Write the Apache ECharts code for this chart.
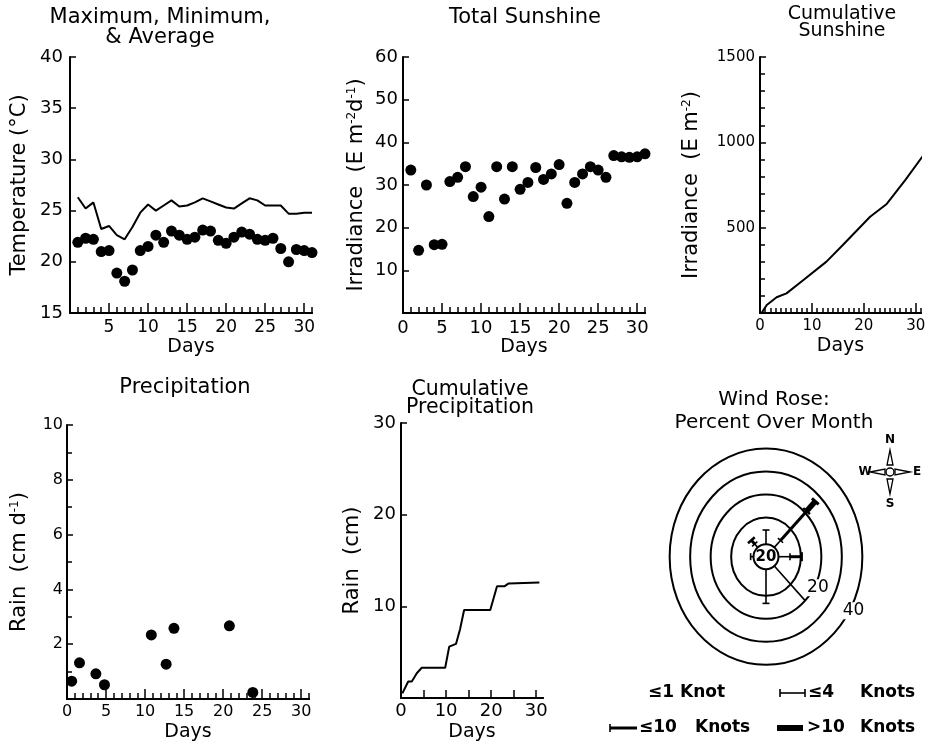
<!DOCTYPE html>
<html>
<head>
<meta charset="utf-8">
<script src="https://cdn.jsdelivr.net/npm/echarts@6/dist/echarts.min.js"></script>
<style>
  html, body { margin: 0; padding: 0; background: #fff; }
  #main { width: 929px; height: 746px; }
</style>
</head>
<body>
<div id="main"></div>
<script>
// values
let days = [1, 2, 3, 4, 5, 6, 7, 8, 9, 10, 11, 12, 13, 14, 15, 16, 17, 18, 19, 20, 21, 22, 23, 24, 25, 26, 27, 28, 29, 30, 31];
let tempLine = [26.3, 25.2, 25.8, 23.2, 23.5, 22.6, 22.2, 23.4, 24.8, 25.6, 25.0, 25.5, 26.0, 25.4, 25.5, 25.8,
    26.2, 25.9, 25.6, 25.3, 25.2, 25.7, 26.2, 26.0, 25.5, 25.5, 25.5, 24.7, 24.7, 24.8, 24.8];
let tempDots = [21.9, 22.3, 22.2, 21.0, 21.1, 18.9, 18.1, 19.2, 21.1, 21.5, 22.6, 21.9, 23.0, 22.6, 22.2, 22.4,
    23.1, 23.0, 22.1, 21.8, 22.4, 22.9, 22.7, 22.2, 22.1, 22.3, 21.3, 20.0, 21.2, 21.1, 20.9];
let sunDaily = [33.5, 14.7, 30.0, 16.0, 16.1, 30.8, 31.8, 34.3, 27.3, 29.5, 22.6, 34.3, 26.7, 34.3, 29.0, 30.6,
    34.1, 31.3, 32.6, 34.8, 25.7, 30.6, 32.6, 34.3, 33.5, 31.8, 36.9, 36.6, 36.5, 36.6, 37.3];
let cumSunDays = [0.3, 1.3, 3.2, 5.1, 8, 12.8, 16, 21.2, 24.4, 28, 32.1];
let cumSun = [0, 47, 92, 115, 185, 301, 400, 564, 639, 780, 951];
let rainDays = [0.6, 1.6, 3.7, 4.8, 10.8, 12.7, 13.7, 20.8, 23.8];
let rainDaily = [0.65, 1.32, 0.92, 0.52, 2.34, 1.27, 2.58, 2.67, 0.24];
let cumRainDays = [0.3, 1.6, 2.4, 3.5, 4.6, 9.8, 10.7, 11.1, 12.2, 13.1, 14.0, 19.8, 21.3, 23.0, 23.9, 30.7];
let cumRain = [0.5, 1.8, 1.8, 2.7, 3.3, 3.3, 5.6, 5.7, 5.9, 7.5, 9.6, 9.6, 12.2, 12.2, 12.5, 12.6];

// wind rose (percent of month), directions in degrees from north
let windAngles = [0, 45, 90, 180, 270, 315];
let windLe4 = [4.6, 3, 4.7, 13.3, 0.5, 0.8];
let windLe10 = [0, 18, 5.7, 0, 0, 2.3];
let windGt10 = [0, 6, 0, 0, 0, 0];
let calmPct = 20;
let ringPct = [10, 20, 30, 40];
let ringLabels = ['', '20', '', '40'];

let tempXLabels = [5, 10, 15, 20, 25, 30];
let dayLabels5 = [0, 5, 10, 15, 20, 25, 30];
let dayLabels10 = [0, 10, 20, 30];

const FONT = 'DejaVu Sans';
const calmOffset = 7;     // ring spacing offset caused by the calm circle
const calmRadius = 12.5;
const ringLabelAngle = 120;
const scaleRef = 20, scaleAngle = 135;

function steps(a, b, s) {
    let out = [];
    for (let v = a; v <= b + 1e-9; v += s) out.push(v);
    return out;
}

function dayAxes(grid, max, minorTicks, majorTicks, labels, minorLen, majorLen, fontSize, margin, nameGap) {
    return [
        {
            type: 'value', gridIndex: grid, min: 0, max: max, position: 'bottom',
            axisLine: { lineStyle: { color: '#000', width: 2 } },
            axisTick: { inside: true, length: minorLen, customValues: minorTicks, lineStyle: { color: '#000', width: 1.5 } },
            axisLabel: { show: false },
            splitLine: { show: false }
        },
        {
            type: 'value', gridIndex: grid, min: 0, max: max, position: 'bottom',
            name: 'Days', nameLocation: 'middle', nameGap: nameGap,
            nameTextStyle: { fontSize: 19, color: '#000', fontFamily: FONT },
            axisLine: { lineStyle: { color: '#000', width: 2 } },
            axisTick: { inside: true, length: majorLen, customValues: majorTicks, lineStyle: { color: '#000', width: 1.5 } },
            axisLabel: { customValues: labels, fontSize: fontSize, color: '#000', margin: margin, fontFamily: FONT },
            splitLine: { show: false }
        }
    ];
}

function valAxis(grid, min, max, interval, name, nameGap, fontSize, margin, showMin, minorSplit) {
    return {
        type: 'value', gridIndex: grid, min: min, max: max, interval: interval,
        name: name, nameLocation: 'middle', nameGap: nameGap,
        nameTextStyle: {
            fontSize: 21, color: '#000', fontFamily: FONT,
            rich: { s: { fontSize: 12, verticalAlign: 'top', color: '#000', fontFamily: FONT } }
        },
        axisLine: { show: true, lineStyle: { color: '#000', width: 2 } },
        axisTick: { show: true, inside: true, length: 6, lineStyle: { color: '#000', width: 1.5 } },
        minorTick: { show: !!minorSplit, splitNumber: minorSplit || 5, length: 5, lineStyle: { color: '#000', width: 1.5 } },
        axisLabel: { showMinLabel: showMin, fontSize: fontSize, color: '#000', margin: margin, fontFamily: FONT,
                     formatter: v => String(v) },
        splitLine: { show: false }
    };
}

function unit(c, p) {
    let ux = p[0] - c[0], uy = p[1] - c[1];
    let L = Math.hypot(ux, uy) || 1;
    return [ux / L, uy / L];
}

function renderRing(params, api) {
    let p = api.value(2);
    let c = api.coord([0, 0]);
    let s = api.size([p + calmOffset, p + calmOffset]);
    let kids = [{
        type: 'ellipse',
        shape: { cx: c[0], cy: c[1], rx: s[0], ry: s[1] },
        style: { fill: 'none', stroke: '#000', lineWidth: 2 }
    }];
    let lab = ringLabels[params.dataIndex];
    if (lab) {
        let a = ringLabelAngle * Math.PI / 180;
        let pt = api.coord([(p + calmOffset) * Math.sin(a), (p + calmOffset) * Math.cos(a)]);
        kids.push({
            type: 'text', x: pt[0] + 4, y: pt[1],
            style: {
                text: lab, fill: '#000', fontSize: 17, fontFamily: FONT,
                align: 'center', verticalAlign: 'middle', textAlign: 'center', textVerticalAlign: 'middle',
                backgroundColor: '#fff', padding: [0, 2]
            }
        });
    }
    return { type: 'group', children: kids };
}

function renderCalm(params, api) {
    let c = api.coord([0, 0]);
    let a = scaleAngle * Math.PI / 180;
    let e = api.coord([Math.sin(a) * (scaleRef + calmOffset), Math.cos(a) * (scaleRef + calmOffset)]);
    let u = unit(c, e);
    return {
        type: 'group', children: [
            { type: 'line', shape: { x1: c[0] + u[0] * calmRadius, y1: c[1] + u[1] * calmRadius, x2: e[0], y2: e[1] },
              style: { stroke: '#000', lineWidth: 1.6 } },
            { type: 'circle', shape: { cx: c[0], cy: c[1], r: calmRadius },
              style: { fill: '#fff', stroke: '#000', lineWidth: 2 } },
            { type: 'text', x: c[0], y: c[1] + 0.5,
              style: { text: String(api.value(2)), fill: '#000', fontSize: 15, fontWeight: 'bold', fontFamily: FONT,
                       align: 'center', verticalAlign: 'middle', textAlign: 'center', textVerticalAlign: 'middle' } }
        ]
    };
}

const segWidth = [1.6, 3, 5.5];
const capHalf = [3.5, 4.5, 4.5];
const capWidth = [1.6, 2.5, 3];

function renderWind(params, api) {
    let ang = api.value(2) * Math.PI / 180;
    let sx = Math.sin(ang), sy = Math.cos(ang);
    let c = api.coord([0, 0]);
    let u = unit(c, api.coord([sx * 10, sy * 10]));
    let n = [-u[1], u[0]];
    let prev = [c[0] + u[0] * calmRadius, c[1] + u[1] * calmRadius];
    let cum = 0;
    let kids = [];
    for (let j = 0; j < 3; j++) {
        let v = api.value(3 + j);
        if (!(v > 0)) continue;
        cum += v;
        let end = api.coord([sx * (cum + calmOffset), sy * (cum + calmOffset)]);
        kids.push({ type: 'line', shape: { x1: prev[0], y1: prev[1], x2: end[0], y2: end[1] },
                    style: { stroke: '#000', lineWidth: segWidth[j] } });
        kids.push({ type: 'line',
                    shape: { x1: end[0] - n[0] * capHalf[j], y1: end[1] - n[1] * capHalf[j],
                             x2: end[0] + n[0] * capHalf[j], y2: end[1] + n[1] * capHalf[j] },
                    style: { stroke: '#000', lineWidth: capWidth[j] } });
        prev = end;
    }
    return { type: 'group', children: kids };
}

function txt(x, y, s, size, align) {
    return { type: 'text', x: x, y: y, style: {
        text: s, fill: '#000', fontSize: size, fontWeight: 'bold', fontFamily: FONT,
        align: align || 'left', verticalAlign: 'middle', textAlign: align || 'left', textVerticalAlign: 'middle' } };
}
function seg(x1, y1, x2, y2, w) {
    return { type: 'line', shape: { x1: x1, y1: y1, x2: x2, y2: y2 }, style: { stroke: '#000', lineWidth: w } };
}
function tri(pts, fill) {
    return { type: 'polygon', shape: { points: pts }, style: { fill: fill, stroke: '#000', lineWidth: 1.3 } };
}

let titleStyle = (fs, lh) => ({ fontSize: fs, lineHeight: lh, fontWeight: 'normal', color: '#000', fontFamily: FONT });
let dot = { color: '#000', opacity: 1 };

let xAxes = [].concat(
    dayAxes(0, 31, steps(0, 31, 1), steps(0, 30, 5), tempXLabels, 6, 10, 17, 6, 25),
    dayAxes(1, 31, steps(0, 31, 1), steps(0, 30, 5), dayLabels5, 6, 10, 18, 6, 25),
    dayAxes(2, 31, steps(0, 31, 1), steps(0, 30, 10), dayLabels10, 5, 10, 15, 6, 24),
    dayAxes(3, 31, steps(0, 31, 1), steps(0, 30, 5), dayLabels5, 6, 10, 16, 5, 24),
    dayAxes(4, 31.5, steps(0, 30, 5), steps(0, 30, 10), dayLabels10, 8, 8, 18, 4, 25),
    [{ type: 'value', gridIndex: 5, min: -50, max: 50, show: false }]
);

let option = {
    animation: false,
    backgroundColor: '#fff',
    textStyle: { fontFamily: FONT },
    title: [
        { text: 'Maximum, Minimum,\n& Average', left: 160, top: 8, textAlign: 'center', padding: 0, textStyle: titleStyle(21, 20) },
        { text: 'Total Sunshine', left: 525, top: 8, textAlign: 'center', padding: 0, textStyle: titleStyle(21, 20) },
        { text: 'Cumulative\nSunshine', left: 842, top: 6, textAlign: 'center', padding: 0, textStyle: titleStyle(19, 17) },
        { text: 'Precipitation', left: 185, top: 378, textAlign: 'center', padding: 0, textStyle: titleStyle(21, 20) },
        { text: 'Cumulative\nPrecipitation', left: 470, top: 381, textAlign: 'center', padding: 0, textStyle: titleStyle(20.5, 18) },
        { text: 'Wind Rose:\nPercent Over Month', left: 774, top: 388, textAlign: 'center', padding: 0, textStyle: titleStyle(20, 23) }
    ],
    grid: [
        { left: 70, top: 57, width: 242, height: 256, outerBoundsMode: 'none' },
        { left: 403, top: 57, width: 242, height: 256, outerBoundsMode: 'none' },
        { left: 760, top: 57, width: 161, height: 256, outerBoundsMode: 'none' },
        { left: 67, top: 425, width: 242, height: 274, outerBoundsMode: 'none' },
        { left: 401, top: 423, width: 142, height: 275, outerBoundsMode: 'none' },
        { left: 663.5, top: 441.7, width: 205, height: 230, outerBoundsMode: 'none' }
    ],
    xAxis: xAxes,
    yAxis: [
        valAxis(0, 15, 40, 5, 'Temperature (°C)', 40, 18, 7, true, 0),
        valAxis(1, 0, 60, 10, 'Irradiance  (E m{s|-2}d{s|-1})', 36, 18, 5, false, 0),
        valAxis(2, 0, 1500, 500, 'Irradiance  (E m{s|-2})', 58, 15, 5, false, 5),
        valAxis(3, 0, 10, 2, 'Rain  (cm d{s|-1})', 37, 16, 4, false, 2),
        valAxis(4, 0, 30, 10, 'Rain  (cm)', 38, 18, 5, false, 0),
        { type: 'value', gridIndex: 5, min: -50, max: 50, show: false }
    ],
    series: [
        { type: 'line', xAxisIndex: 1, yAxisIndex: 0, showSymbol: false, data: days.map((d, i) => [d, tempLine[i]]),
          lineStyle: { color: '#000', width: 2 } },
        { type: 'scatter', xAxisIndex: 1, yAxisIndex: 0, symbolSize: 11, data: days.map((d, i) => [d, tempDots[i]]),
          itemStyle: dot },
        { type: 'scatter', xAxisIndex: 3, yAxisIndex: 1, symbolSize: 11, data: days.map((d, i) => [d, sunDaily[i]]),
          itemStyle: dot },
        { type: 'line', xAxisIndex: 5, yAxisIndex: 2, showSymbol: false, clip: false,
          data: cumSunDays.map((d, i) => [d, cumSun[i]]), lineStyle: { color: '#000', width: 2 } },
        { type: 'scatter', xAxisIndex: 7, yAxisIndex: 3, symbolSize: 11, data: rainDays.map((d, i) => [d, rainDaily[i]]),
          itemStyle: dot },
        { type: 'line', xAxisIndex: 9, yAxisIndex: 4, showSymbol: false,
          data: cumRainDays.map((d, i) => [d, cumRain[i]]), lineStyle: { color: '#000', width: 2 } },
        { type: 'custom', xAxisIndex: 10, yAxisIndex: 5, renderItem: renderRing,
          data: ringPct.map(p => [0, 0, p]) },
        { type: 'custom', xAxisIndex: 10, yAxisIndex: 5, renderItem: renderCalm,
          data: [[0, 0, calmPct]] },
        { type: 'custom', xAxisIndex: 10, yAxisIndex: 5, renderItem: renderWind,
          data: windAngles.map((a, i) => [0, 0, a, windLe4[i], windLe10[i], windGt10[i]]) }
    ],
    graphic: [
        // compass
        txt(890, 440, 'N', 12, 'center'),
        tri([[890, 450], [887, 465], [893, 465]], '#fff'),
        { type: 'circle', shape: { cx: 890, cy: 472, r: 4 }, style: { fill: '#fff', stroke: '#000', lineWidth: 1.4 } },
        tri([[910, 472], [895, 469], [895, 475]], '#fff'),
        tri([[870, 472], [885, 469], [885, 475]], '#fff'),
        tri([[890, 494], [887, 479], [893, 479]], '#fff'),
        txt(865, 472, 'W', 12, 'center'),
        txt(917, 472, 'E', 12, 'center'),
        txt(890, 504, 'S', 12, 'center'),
        // key
        txt(648, 693, '≤1 Knot', 17),
        seg(780, 693, 805, 693, 1.6), seg(780, 689, 780, 697, 1.6), seg(805, 689, 805, 697, 1.6),
        txt(808, 693, '≤4', 17), txt(860, 693, 'Knots', 17),
        seg(610, 724, 610, 732, 1.6), seg(610, 728, 637, 728, 3),
        txt(639, 728, '≤10', 17), txt(695, 728, 'Knots', 17),
        seg(777, 728, 803, 728, 6),
        txt(807, 728, '>10', 17), txt(860, 728, 'Knots', 17)
    ]
};

echarts.init(document.getElementById('main')).setOption(option);
</script>
</body>
</html>
